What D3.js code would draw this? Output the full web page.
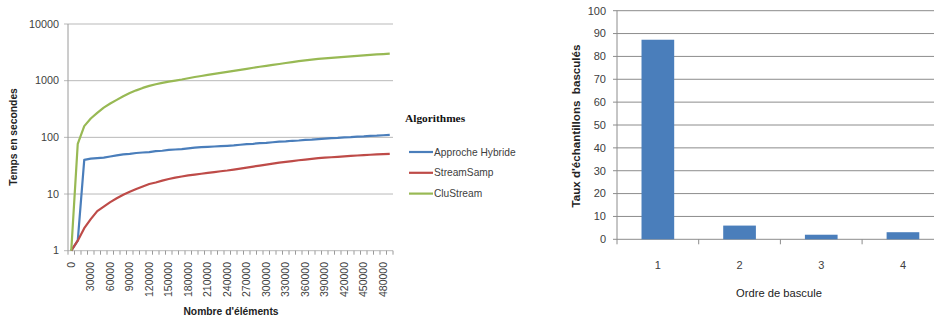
<!DOCTYPE html>
<html>
<head>
<meta charset="utf-8">
<script src="https://cdn.jsdelivr.net/npm/d3@7"></script>
<style>
  html, body { margin: 0; padding: 0; background: #fff; }
  svg { display: block; }
  text { font-family: "Liberation Sans", Arial, sans-serif; }
</style>
</head>
<body>
<div id="chart"></div>
<script>
// left chart: execution time (log scale) by number of elements, step 10000
const elements = d3.range(0, 500000, 10000);
const xTickLabels = d3.range(0, 500000, 30000);
const yTickValues = [1, 10, 100, 1000, 10000];
const seriesNames = ['Approche Hybride', 'StreamSamp', 'CluStream'];

const hybride = [1, 1.5, 40, 42, 43, 44, 46, 48, 50, 51,
  53, 54, 55, 57, 58, 60, 61, 62, 64, 66,
  67, 68, 69, 70, 71, 72, 74, 76, 77, 79,
  80, 82, 84, 85, 87, 88, 90, 91, 93, 95,
  97, 98, 100, 101, 103, 104, 106, 107, 109, 111];
const streamSamp = [1, 1.5, 2.5, 3.6, 5, 6, 7.2, 8.4, 9.7, 11,
  12.3, 13.6, 15, 16, 17.2, 18.4, 19.5, 20.4, 21.3, 22,
  22.8, 23.6, 24.4, 25.2, 26, 27, 28, 29.2, 30.5, 31.8,
  33, 34.3, 35.7, 37, 38.2, 39.4, 40.6, 41.8, 43, 43.8,
  44.6, 45.4, 46.2, 47, 47.8, 48.6, 49.3, 50, 50.5, 51];
const cluStream = [1, 77, 158, 215, 270, 335, 395, 458, 530, 605,
  675, 745, 810, 865, 915, 960, 1005, 1050, 1105, 1160,
  1210, 1265, 1320, 1370, 1430, 1490, 1550, 1620, 1690, 1760,
  1830, 1900, 1970, 2050, 2130, 2210, 2280, 2350, 2420, 2475,
  2530, 2580, 2630, 2680, 2740, 2800, 2860, 2910, 2950, 3000];

// right chart: rate of switched samples by switch order
const ordres = [1, 2, 3, 4];
const taux = [87.3, 6, 2, 3.1];
const tauxTicks = d3.range(0, 101, 10);

const W = 934, H = 322;
const svg = d3.select('#chart').append('svg')
  .attr('width', W).attr('height', H);

const gridGrey = '#b9b9b9';
const axisGrey = '#9a9a9a';
const labelColor = '#404040';

// ---------- left chart ----------
const x1 = d3.scaleBand().domain(elements).range([68, 393]).padding(0);
const y1 = d3.scaleLog().domain([1, 10000]).range([250.7, 24]);
const cx = d => x1(d) + x1.bandwidth() / 2;

const left = svg.append('g');

left.selectAll('.grid1')
  .data(yTickValues)
  .enter().append('line')
  .attr('x1', 64).attr('x2', 393)
  .attr('y1', d => y1(d)).attr('y2', d => y1(d))
  .style('stroke', gridGrey).style('stroke-width', 1);

left.append('line')
  .attr('x1', 68).attr('x2', 68)
  .attr('y1', y1(10000)).attr('y2', y1(1))
  .style('stroke', axisGrey);

left.selectAll('.ylab1')
  .data(yTickValues)
  .enter().append('text')
  .attr('x', 59).attr('y', d => y1(d))
  .attr('dy', '0.35em')
  .attr('text-anchor', 'end')
  .style('font-size', '10.8px')
  .style('fill', labelColor)
  .text(d => d);

// category tick marks between categories
left.selectAll('.xtick1')
  .data(elements.concat([null]))
  .enter().append('line')
  .attr('x1', d => d === null ? 393 : x1(d))
  .attr('x2', d => d === null ? 393 : x1(d))
  .attr('y1', y1(1)).attr('y2', y1(1) + 4)
  .style('stroke', axisGrey);

left.selectAll('.xlab1')
  .data(xTickLabels)
  .enter().append('text')
  .attr('transform', d => `translate(${cx(d)},262) rotate(-90)`)
  .attr('dy', '0.35em')
  .attr('text-anchor', 'end')
  .style('font-size', '10.5px')
  .style('fill', labelColor)
  .text(d => d);

const line1 = d3.line()
  .x((d, i) => cx(elements[i]))
  .y(d => y1(d));

const colors = ['#4a7ebb', '#be4b48', '#98b954'];
const series = [hybride, streamSamp, cluStream];

left.selectAll('.series')
  .data(series)
  .enter().append('path')
  .attr('d', d => line1(d))
  .style('fill', 'none')
  .style('stroke', (d, i) => colors[i])
  .style('stroke-width', 2.2)
  .style('stroke-linejoin', 'round');

left.append('text')
  .attr('transform', 'translate(17,137) rotate(-90)')
  .attr('text-anchor', 'middle')
  .style('font-size', '10.3px')
  .style('font-weight', 'bold')
  .style('fill', '#222')
  .text('Temps en secondes');

left.append('text')
  .attr('x', 231).attr('y', 315)
  .attr('text-anchor', 'middle')
  .style('font-size', '10.3px')
  .style('font-weight', 'bold')
  .style('fill', '#222')
  .text("Nombre d'éléments");

// legend
left.append('text')
  .attr('x', 405).attr('y', 122)
  .style('font-family', '"Liberation Serif", "Times New Roman", serif')
  .style('font-size', '11.4px')
  .style('font-weight', 'bold')
  .style('fill', '#111')
  .text('Algorithmes');

const legend = left.selectAll('.leg')
  .data(seriesNames)
  .enter().append('g')
  .attr('transform', (d, i) => `translate(409,${152 + i * 20.8})`);

legend.append('line')
  .attr('x1', 0).attr('x2', 24)
  .style('stroke', (d, i) => colors[i])
  .style('stroke-width', 2.2);

legend.append('text')
  .attr('x', 25).attr('dy', '0.35em')
  .style('font-size', '10.2px')
  .style('fill', labelColor)
  .text(d => d);

// ---------- right chart ----------
const x2 = d3.scaleBand().domain(ordres).range([617, 943.8]).padding(0);
const y2 = d3.scaleLinear().domain([0, 100]).range([239.3, 10.7]);
const barW = x2.bandwidth() / 2.5;

const right = svg.append('g');

right.selectAll('.grid2')
  .data(tauxTicks.filter(d => d > 0))
  .enter().append('line')
  .attr('x1', 613).attr('x2', 944)
  .attr('y1', d => y2(d)).attr('y2', d => y2(d))
  .style('stroke', '#8c8c8c').style('stroke-width', 1);

right.append('line')
  .attr('x1', 617).attr('x2', 617)
  .attr('y1', y2(100)).attr('y2', y2(0))
  .style('stroke', '#8c8c8c');

right.append('line')
  .attr('x1', 613).attr('x2', 944)
  .attr('y1', y2(0)).attr('y2', y2(0))
  .style('stroke', '#8c8c8c');

right.selectAll('.xtick2')
  .data(ordres)
  .enter().append('line')
  .attr('x1', d => x2(d)).attr('x2', d => x2(d))
  .attr('y1', y2(0)).attr('y2', y2(0) + 5)
  .style('stroke', '#8c8c8c');

right.selectAll('.bar')
  .data(taux)
  .enter().append('rect')
  .attr('x', (d, i) => x2(ordres[i]) + (x2.bandwidth() - barW) / 2)
  .attr('width', barW)
  .attr('y', d => y2(d))
  .attr('height', d => y2(0) - y2(d))
  .style('fill', '#4a7ebb');

right.selectAll('.ylab2')
  .data(tauxTicks)
  .enter().append('text')
  .attr('x', 606).attr('y', d => y2(d))
  .attr('dy', '0.35em')
  .attr('text-anchor', 'end')
  .style('font-size', '11px')
  .style('fill', labelColor)
  .text(d => d);

right.selectAll('.xlab2')
  .data(ordres)
  .enter().append('text')
  .attr('x', d => x2(d) + x2.bandwidth() / 2).attr('y', 265)
  .attr('dy', '0.35em')
  .attr('text-anchor', 'middle')
  .style('font-size', '11px')
  .style('fill', labelColor)
  .text(d => d);

right.append('text')
  .attr('transform', 'translate(580,126) rotate(-90)')
  .attr('text-anchor', 'middle')
  .style('font-size', '11.6px')
  .style('font-weight', 'bold')
  .style('white-space', 'pre')
  .style('fill', '#222')
  .text("Taux d'échantillons  basculés");

right.append('text')
  .attr('x', 779).attr('y', 297)
  .attr('text-anchor', 'middle')
  .style('font-size', '11.2px')
  .style('fill', '#222')
  .text('Ordre de bascule');
</script>
</body>
</html>
